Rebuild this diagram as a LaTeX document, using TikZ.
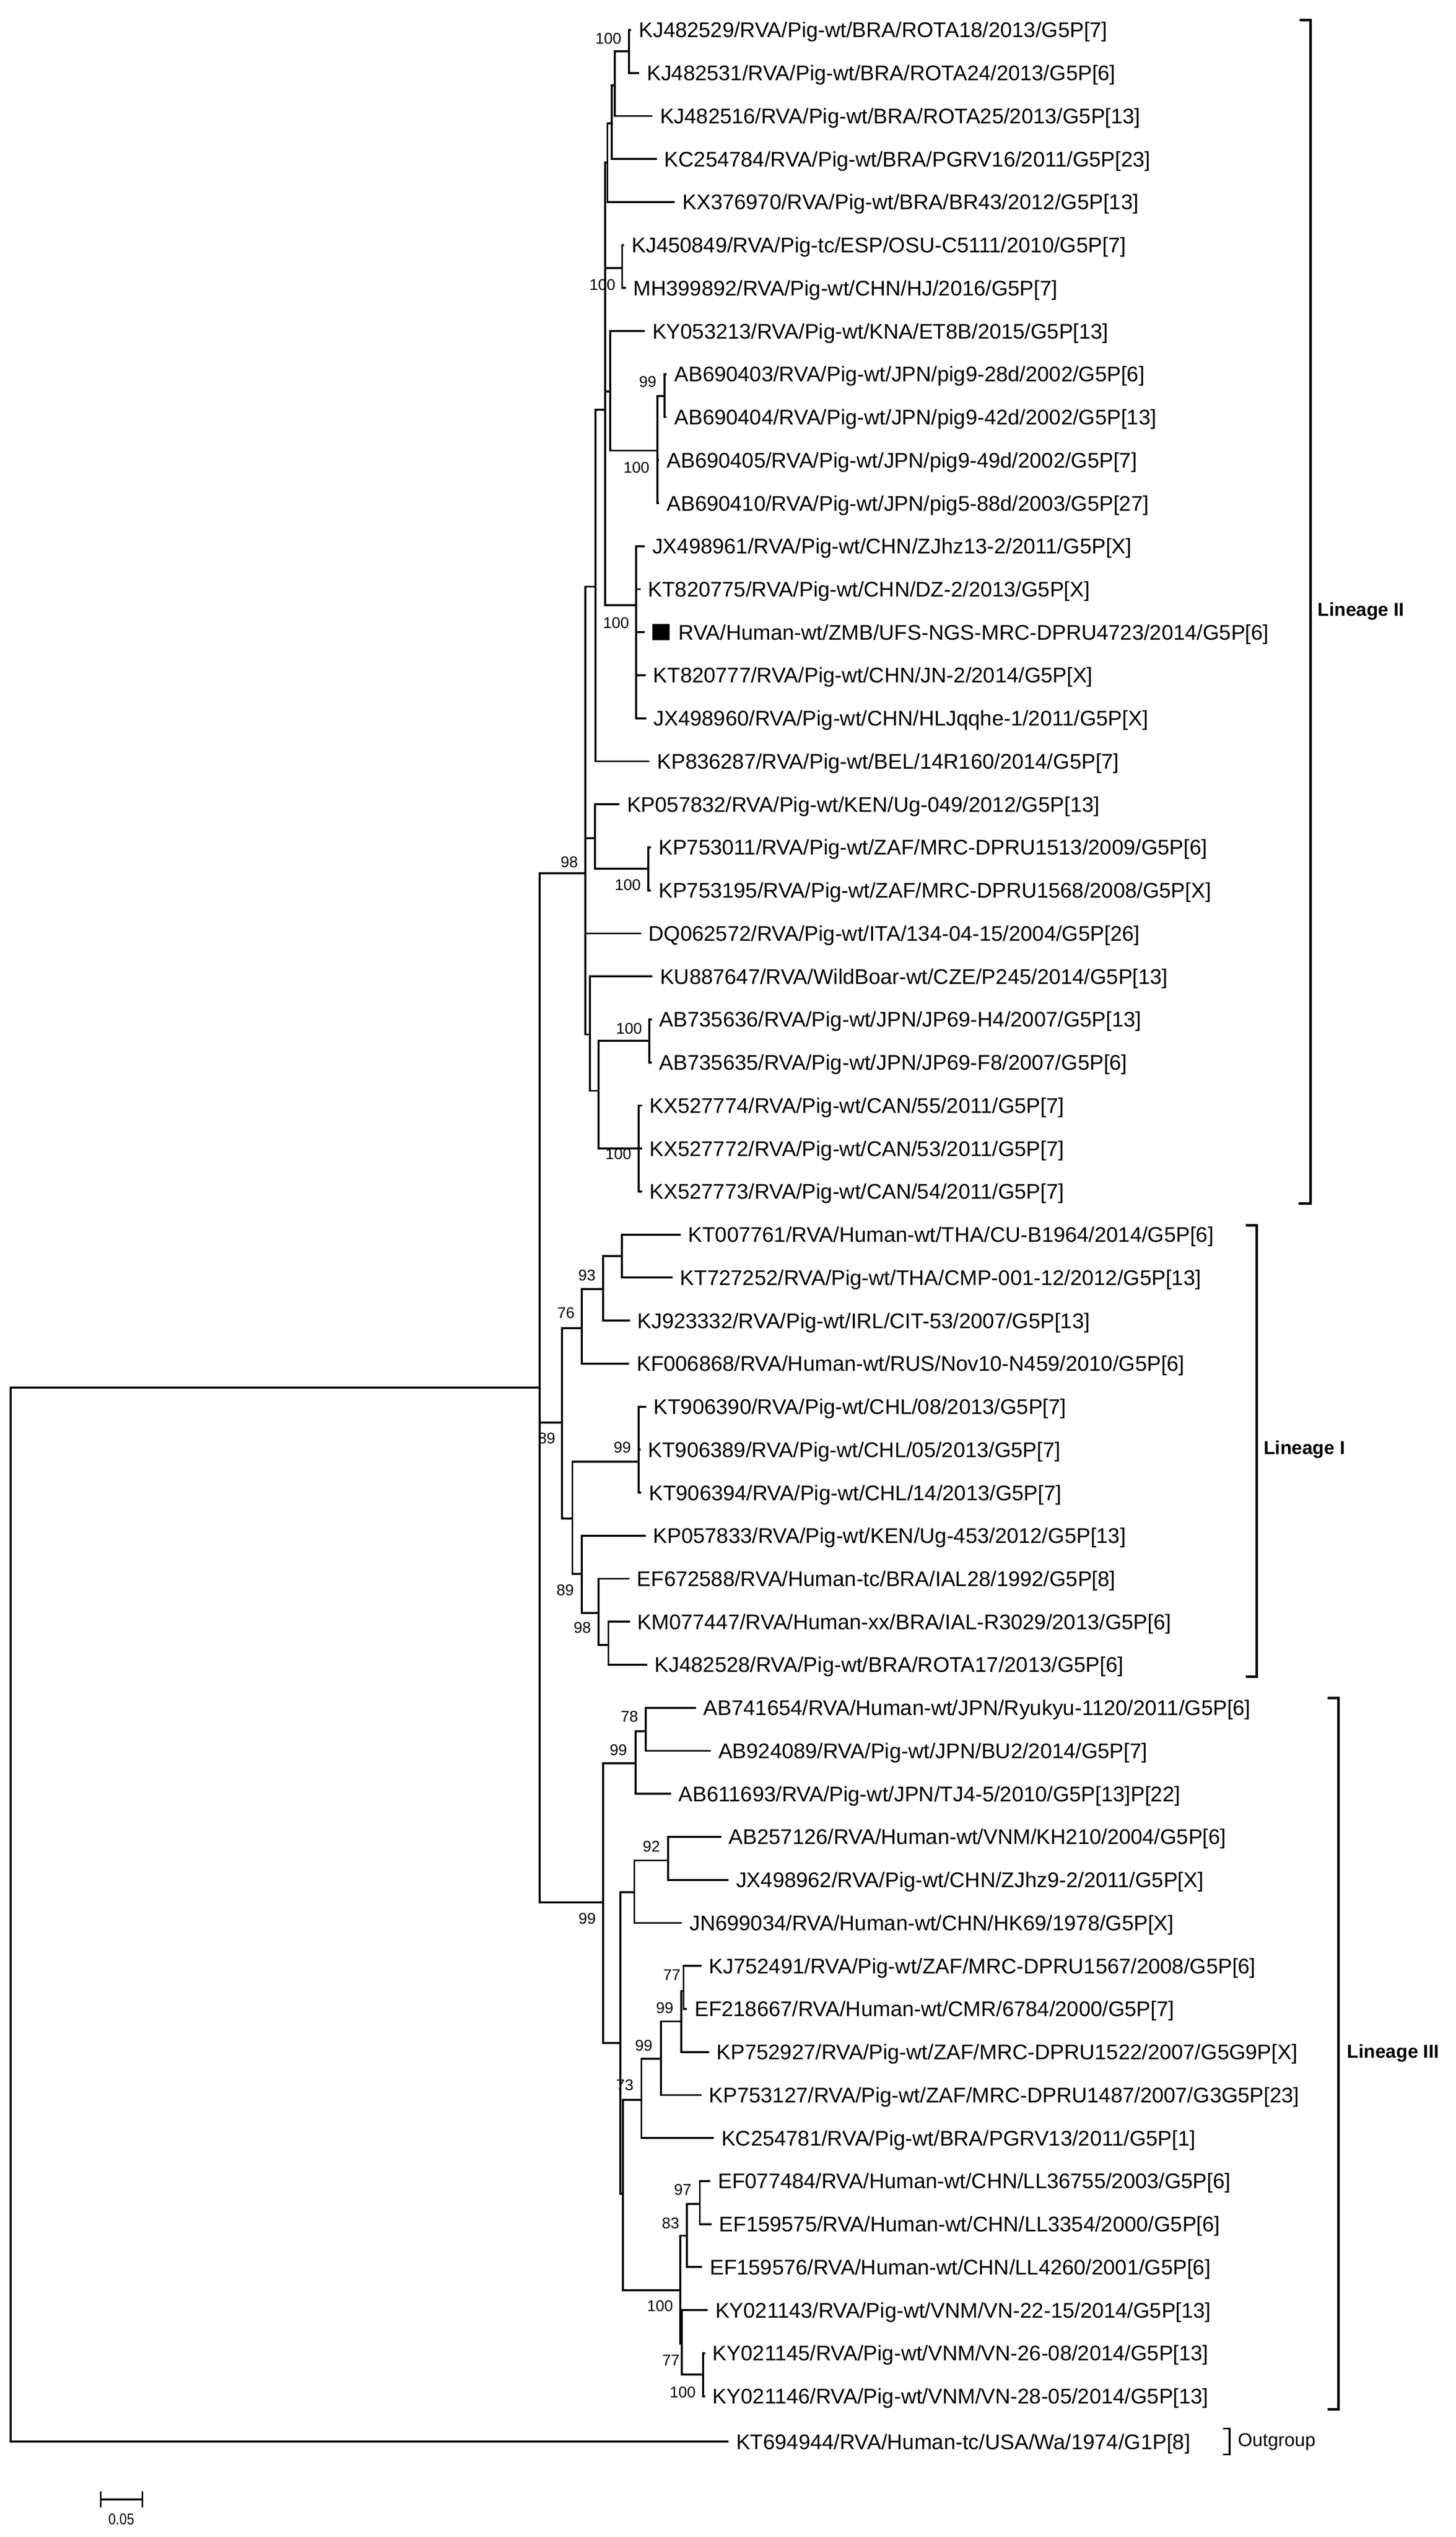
\documentclass[tikz,border=0pt]{standalone}
\usepackage{fontspec}
\setmainfont{Liberation Sans}
\tikzset{
 br/.style={line width=1.2pt},
 brk/.style={line width=1.6pt},
 lf/.style={anchor=west,inner sep=0pt,font=\fontsize{13.1}{14}\selectfont,text height=9.4pt,text depth=0pt},
 bs/.style={inner sep=0pt,font=\fontsize{9.6}{10}\selectfont},
 lin/.style={anchor=west,inner sep=0pt,font=\bfseries\fontsize{11.6}{12}\selectfont}
}
\newcommand\leaf[4]{\coordinate (#1) at (#2,{18.5+26.6*#3}); \node[lf] (#1t) at ([xshift=4.5pt]#1) {#4};}
\newcommand\ed[2]{\draw[br] (#1) |- (#2);}
\begin{document}
\begin{tikzpicture}[x=1pt,y=-1pt]
\useasboundingbox (0,0) rectangle (900,1568.6);
% ---- Lineage II leaves
\leaf{l0}{390.3}{0}{KJ482529/RVA/Pig-wt/BRA/ROTA18/2013/G5P[7]}
\leaf{l1}{395.3}{1}{KJ482531/RVA/Pig-wt/BRA/ROTA24/2013/G5P[6]}
\leaf{l2}{403.4}{2}{KJ482516/RVA/Pig-wt/BRA/ROTA25/2013/G5P[13]}
\leaf{l3}{406.2}{3}{KC254784/RVA/Pig-wt/BRA/PGRV16/2011/G5P[23]}
\leaf{l4}{417.3}{4}{KX376970/RVA/Pig-wt/BRA/BR43/2012/G5P[13]}
\leaf{l5}{385.9}{5}{KJ450849/RVA/Pig-tc/ESP/OSU-C5111/2010/G5P[7]}
\leaf{l6}{386.9}{6}{MH399892/RVA/Pig-wt/CHN/HJ/2016/G5P[7]}
\leaf{l7}{398.7}{7}{KY053213/RVA/Pig-wt/KNA/ET8B/2015/G5P[13]}
\leaf{l8}{412.3}{8}{AB690403/RVA/Pig-wt/JPN/pig9-28d/2002/G5P[6]}
\leaf{l9}{412.3}{9}{AB690404/RVA/Pig-wt/JPN/pig9-42d/2002/G5P[13]}
\leaf{l10}{407.6}{10}{AB690405/RVA/Pig-wt/JPN/pig9-49d/2002/G5P[7]}
\leaf{l11}{407.6}{11}{AB690410/RVA/Pig-wt/JPN/pig5-88d/2003/G5P[27]}
\leaf{l12}{398.7}{12}{JX498961/RVA/Pig-wt/CHN/ZJhz13-2/2011/G5P[X]}
\leaf{l13}{396.0}{13}{KT820775/RVA/Pig-wt/CHN/DZ-2/2013/G5P[X]}
\coordinate (l14) at (398.7,{18.5+26.6*14});
\node[fill=black,inner sep=0pt,minimum width=10.7pt,minimum height=10pt] (sq) at (408.75,{18.5+26.6*14}) {};
\node[lf] (l14t) at (419.4,{18.5+26.6*14}) {RVA/Human-wt/ZMB/UFS-NGS-MRC-DPRU4723/2014/G5P[6]};
\leaf{l15}{399.2}{15}{KT820777/RVA/Pig-wt/CHN/JN-2/2014/G5P[X]}
\leaf{l16}{399.5}{16}{JX498960/RVA/Pig-wt/CHN/HLJqqhe-1/2011/G5P[X]}
\leaf{l17}{401.6}{17}{KP836287/RVA/Pig-wt/BEL/14R160/2014/G5P[7]}
\leaf{l18}{383.0}{18}{KP057832/RVA/Pig-wt/KEN/Ug-049/2012/G5P[13]}
\leaf{l19}{402.5}{19}{KP753011/RVA/Pig-wt/ZAF/MRC-DPRU1513/2009/G5P[6]}
\leaf{l20}{402.5}{20}{KP753195/RVA/Pig-wt/ZAF/MRC-DPRU1568/2008/G5P[X]}
\leaf{l21}{396.4}{21}{DQ062572/RVA/Pig-wt/ITA/134-04-15/2004/G5P[26]}
\leaf{l22}{403.4}{22}{KU887647/RVA/WildBoar-wt/CZE/P245/2014/G5P[13]}
\leaf{l23}{403.0}{23}{AB735636/RVA/Pig-wt/JPN/JP69-H4/2007/G5P[13]}
\leaf{l24}{403.0}{24}{AB735635/RVA/Pig-wt/JPN/JP69-F8/2007/G5P[6]}
\leaf{l25}{397.0}{25}{KX527774/RVA/Pig-wt/CAN/55/2011/G5P[7]}
\leaf{l26}{397.0}{26}{KX527772/RVA/Pig-wt/CAN/53/2011/G5P[7]}
\leaf{l27}{397.0}{27}{KX527773/RVA/Pig-wt/CAN/54/2011/G5P[7]}
% ---- Lineage I leaves
\leaf{l28}{420.8}{28}{KT007761/RVA/Human-wt/THA/CU-B1964/2014/G5P[6]}
\leaf{l29}{415.9}{29}{KT727252/RVA/Pig-wt/THA/CMP-001-12/2012/G5P[13]}
\leaf{l30}{389.4}{30}{KJ923332/RVA/Pig-wt/IRL/CIT-53/2007/G5P[13]}
\leaf{l31}{389.0}{31}{KF006868/RVA/Human-wt/RUS/Nov10-N459/2010/G5P[6]}
\leaf{l32}{399.5}{32}{KT906390/RVA/Pig-wt/CHL/08/2013/G5P[7]}
\leaf{l33}{396.0}{33}{KT906389/RVA/Pig-wt/CHL/05/2013/G5P[7]}
\leaf{l34}{396.6}{34}{KT906394/RVA/Pig-wt/CHL/14/2013/G5P[7]}
\leaf{l35}{399.2}{35}{KP057833/RVA/Pig-wt/KEN/Ug-453/2012/G5P[13]}
\leaf{l36}{389.2}{36}{EF672588/RVA/Human-tc/BRA/IAL28/1992/G5P[8]}
\leaf{l37}{389.4}{37}{KM077447/RVA/Human-xx/BRA/IAL-R3029/2013/G5P[6]}
\leaf{l38}{400.2}{38}{KJ482528/RVA/Pig-wt/BRA/ROTA17/2013/G5P[6]}
% ---- Lineage III leaves
\leaf{l39}{430.3}{39}{AB741654/RVA/Human-wt/JPN/Ryukyu-1120/2011/G5P[6]}
\leaf{l40}{439.5}{40}{AB924089/RVA/Pig-wt/JPN/BU2/2014/G5P[7]}
\leaf{l41}{414.9}{41}{AB611693/RVA/Pig-wt/JPN/TJ4-5/2010/G5P[13]P[22]}
\leaf{l42}{446.0}{42}{AB257126/RVA/Human-wt/VNM/KH210/2004/G5P[6]}
\leaf{l43}{450.5}{43}{JX498962/RVA/Pig-wt/CHN/ZJhz9-2/2011/G5P[X]}
\leaf{l44}{421.7}{44}{JN699034/RVA/Human-wt/CHN/HK69/1978/G5P[X]}
\leaf{l45}{433.7}{45}{KJ752491/RVA/Pig-wt/ZAF/MRC-DPRU1567/2008/G5P[6]}
\leaf{l46}{424.8}{46}{EF218667/RVA/Human-wt/CMR/6784/2000/G5P[7]}
\leaf{l47}{438.4}{47}{KP752927/RVA/Pig-wt/ZAF/MRC-DPRU1522/2007/G5G9P[X]}
\leaf{l48}{433.7}{48}{KP753127/RVA/Pig-wt/ZAF/MRC-DPRU1487/2007/G3G5P[23]}
\leaf{l49}{441.4}{49}{KC254781/RVA/Pig-wt/BRA/PGRV13/2011/G5P[1]}
\leaf{l50}{439.3}{50}{EF077484/RVA/Human-wt/CHN/LL36755/2003/G5P[6]}
\leaf{l51}{440.0}{51}{EF159575/RVA/Human-wt/CHN/LL3354/2000/G5P[6]}
\leaf{l52}{434.2}{52}{EF159576/RVA/Human-wt/CHN/LL4260/2001/G5P[6]}
\leaf{l53}{437.6}{53}{KY021143/RVA/Pig-wt/VNM/VN-22-15/2014/G5P[13]}
\leaf{l54}{436.0}{54}{KY021145/RVA/Pig-wt/VNM/VN-26-08/2014/G5P[13]}
\leaf{l55}{436.0}{55}{KY021146/RVA/Pig-wt/VNM/VN-28-05/2014/G5P[13]}
\coordinate (l56) at (450.5,1509.6);
\node[lf] (l56t) at ([xshift=4.5pt]l56) {KT694944/RVA/Human-tc/USA/Wa/1974/G1P[8]};
% ---- internal nodes, Lineage II
\coordinate (a1) at (388.9,31.8);
\coordinate (a2) at (380.1,52.8);
\coordinate (a3) at (378.3,76.4);
\coordinate (a4) at (375.6,100.4);
\coordinate (b) at (384.7,165.7);
\coordinate (c2) at (411,244.8);
\coordinate (c1) at (406.5,278.6);
\coordinate (c) at (377.2,242.1);
\coordinate (n1) at (374.1,253.4);
\coordinate (d) at (393.4,374.2);
\coordinate (n0) at (368.3,362.7);
\coordinate (e1) at (400.8,537.2);
\coordinate (e) at (367.8,518.3);
\coordinate (f2) at (401.6,643.6);
\coordinate (f3) at (395,710.1);
\coordinate (f1) at (370.2,674.4);
\coordinate (f) at (364.7,639.6);
\coordinate (R2) at (362.0,540);
\coordinate (T) at (333.8,857.9);
\coordinate (root) at (6.6,1183);
% Lineage I
\coordinate (I0) at (347.4,879.5);
\coordinate (I1) at (359.7,821.1);
\coordinate (I2) at (373,796.9);
\coordinate (I3) at (384.5,776.6);
\coordinate (I4) at (353.9,938.9);
\coordinate (I5) at (395,903.7);
\coordinate (I6) at (359.7,973.0);
\coordinate (I7) at (370.2,997.3);
\coordinate (I8) at (376.2,1017.1);
% Lineage III
\coordinate (P0) at (373.0,1176.3);
\coordinate (P1) at (392.9,1090.3);
\coordinate (P2) at (399.2,1070.4);
\coordinate (P4) at (383.5,1263.2);
\coordinate (P5) at (392.2,1169.9);
\coordinate (P6) at (413.1,1150.3);
\coordinate (P7) at (385.1,1356.5);
\coordinate (P8) at (396.6,1298.2);
\coordinate (P9) at (408.6,1273);
\coordinate (P10) at (421.2,1249.8);
\coordinate (P11) at (422.7,1231);
\coordinate (P12) at (420.6,1415.9);
\coordinate (P13) at (424.8,1382.3);
\coordinate (P14) at (432.7,1362.7);
\coordinate (P15) at (421.7,1449);
\coordinate (P16) at (434.8,1468.2);
% ---- edges
\ed{a1}{l0}\ed{a1}{l1}\ed{a2}{a1}\ed{a2}{l2}\ed{a3}{a2}\ed{a3}{l3}\ed{a4}{a3}\ed{a4}{l4}
\ed{b}{l5}\ed{b}{l6}
\ed{c2}{l8}\ed{c2}{l9}\ed{c1}{c2}\ed{c1}{l10}\ed{c1}{l11}\ed{c}{l7}\ed{c}{c1}
\ed{n1}{a4}\ed{n1}{b}\ed{n1}{c}\ed{n1}{d}
\ed{d}{l12}\ed{d}{l13}\ed{d}{l14}\ed{d}{l15}\ed{d}{l16}
\ed{n0}{n1}\ed{n0}{l17}
\ed{e1}{l19}\ed{e1}{l20}\ed{e}{l18}\ed{e}{e1}
\ed{f2}{l23}\ed{f2}{l24}\ed{f3}{l25}\ed{f3}{l26}\ed{f3}{l27}\ed{f1}{f2}\ed{f1}{f3}\ed{f}{l22}\ed{f}{f1}
\ed{R2}{n0}\ed{R2}{e}\ed{R2}{l21}\ed{R2}{f}
\ed{T}{R2}\ed{T}{I0}\ed{T}{P0}
\ed{root}{T}\ed{root}{l56}
\ed{I0}{I1}\ed{I0}{I4}\ed{I1}{I2}\ed{I1}{l31}\ed{I2}{I3}\ed{I2}{l30}\ed{I3}{l28}\ed{I3}{l29}
\ed{I4}{I5}\ed{I4}{I6}\ed{I5}{l32}\ed{I5}{l33}\ed{I5}{l34}\ed{I6}{l35}\ed{I6}{I7}\ed{I7}{l36}\ed{I7}{I8}\ed{I8}{l37}\ed{I8}{l38}
\ed{P0}{P1}\ed{P0}{P4}\ed{P1}{P2}\ed{P1}{l41}\ed{P2}{l39}\ed{P2}{l40}
\ed{P4}{P5}\ed{P4}{P7}\ed{P5}{P6}\ed{P5}{l44}\ed{P6}{l42}\ed{P6}{l43}
\ed{P7}{P8}\ed{P7}{P12}\ed{P8}{P9}\ed{P8}{l49}\ed{P9}{P10}\ed{P9}{l48}\ed{P10}{P11}\ed{P10}{l47}\ed{P11}{l45}\ed{P11}{l46}
\ed{P12}{P13}\ed{P12}{P15}\ed{P13}{P14}\ed{P13}{l52}\ed{P14}{l50}\ed{P14}{l51}\ed{P15}{l53}\ed{P15}{P16}\ed{P16}{l54}\ed{P16}{l55}
% ---- bootstrap values
\node[bs] (s1) at (376.2,24) {100};
\node[bs] (s2) at (372.5,176) {100};
\node[bs] (s3) at (400.5,236) {99};
\node[bs] (s4) at (393.5,289) {100};
\node[bs] (s5) at (381,385) {100};
\node[bs] (s6) at (352,533) {98};
\node[bs] (s7) at (388.2,547.2) {100};
\node[bs] (s8) at (389,636) {100};
\node[bs] (s9) at (382.4,713.5) {100};
\node[bs] (s10) at (350,811.8) {76};
\node[bs] (s11) at (362.9,788.5) {93};
\node[bs] (s12) at (338,889.4) {89};
\node[bs] (s13) at (384.8,894.9) {99};
\node[bs] (s14) at (349.5,983) {89};
\node[bs] (s15) at (360.1,1006.5) {98};
\node[bs] (s16) at (363.1,1186.1) {99};
\node[bs] (s17) at (382.4,1081.9) {99};
\node[bs] (s18) at (389.2,1061.4) {78};
\node[bs] (s19) at (402.8,1141.8) {92};
\node[bs] (s20) at (386.4,1289.3) {73};
\node[bs] (s21) at (398.1,1264.6) {99};
\node[bs] (s22) at (411,1241.6) {99};
\node[bs] (s23) at (415.4,1221) {77};
\node[bs] (s24) at (408.1,1425.8) {100};
\node[bs] (s25) at (414.6,1374.5) {83};
\node[bs] (s26) at (422.2,1354) {97};
\node[bs] (s27) at (414.9,1459.4) {77};
\node[bs] (s28) at (422.2,1479) {100};
% ---- lineage brackets
\coordinate (bII1) at (803.6,12.5); \coordinate (bII2) at (810.4,744.1);
\draw[brk] (bII1) -| (bII2) -- ++(-7.5,0);
\node[lin] (linII) at (814.6,378) {Lineage II};
\coordinate (bI1) at (770.3,757.5); \coordinate (bI2) at (777,1036.6);
\draw[brk] (bI1) -| (bI2) -- ++(-6.7,0);
\node[lin] (linI) at (781.2,896.1) {Lineage I};
\coordinate (bIII1) at (821,1049.9); \coordinate (bIII2) at (827.5,1489.5);
\draw[brk] (bIII1) -| (bIII2) -- ++(-6.5,0);
\node[lin] (linIII) at (832.9,1269.3) {Lineage III};
\node[anchor=east,inner sep=0pt,font=\fontsize{11.5}{12}\selectfont,text height=8.2pt,text depth=0pt] (og) at (813.6,1508.5) {Outgroup};
\coordinate (bo1) at ([xshift=-9pt,yshift=7pt]og.west); \coordinate (bo2) at ([xshift=-5pt,yshift=-9pt]og.west);
\draw[line width=1pt] (bo1) -| (bo2) -- ++(-4,0);
% ---- scale bar
\coordinate (sb1) at (62.2,1545.4); \coordinate (sb2) at (88,1545.4);
\draw[line width=1.3pt] (sb1) -- (sb2);
\draw[line width=0.9pt] ([yshift=5pt]sb1) -- ([yshift=-5pt]sb1) ([yshift=5pt]sb2) -- ([yshift=-5pt]sb2);
\node[bs,xscale=0.85] (sbl) at (75,1557.6) {0.05};
\end{tikzpicture}
\end{document}
